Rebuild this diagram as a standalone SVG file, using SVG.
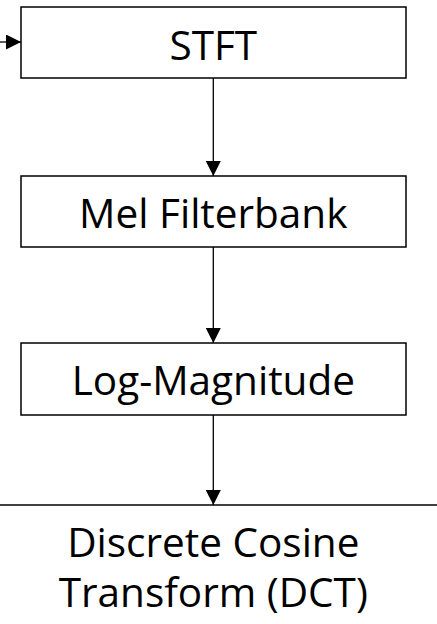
<svg xmlns="http://www.w3.org/2000/svg" width="437" height="624" viewBox="0 0 437 624">
<style>
.box{fill:#fff;stroke:#000;stroke-width:1.5}
.lbl{font-family:"Open Sans","Noto Sans","Liberation Sans",sans-serif;font-size:40.5px;fill:#000;text-anchor:middle}
.edge{stroke:#000;stroke-width:1.3;fill:none}
</style>
<defs>
<marker id="ah" viewBox="0 0 10 10" refX="10" refY="5" markerWidth="15" markerHeight="15" markerUnits="userSpaceOnUse" orient="auto">
<path d="M0,0 L10,5 L0,10 Z" fill="#000"/>
</marker>
</defs>
<g id="connectors">
<line class="edge" x1="0" y1="42" x2="21" y2="42" marker-end="url(#ah)"/>
<line class="edge" x1="213.3" y1="78" x2="213.3" y2="176" marker-end="url(#ah)"/>
<line class="edge" x1="213.3" y1="247" x2="213.3" y2="343" marker-end="url(#ah)"/>
<line class="edge" x1="213.3" y1="415" x2="213.3" y2="505" marker-end="url(#ah)"/>
</g>
<g id="stft">
<rect class="box" x="21" y="7" width="385" height="71"/>
<text class="lbl" x="213.3" y="60">STFT</text>
</g>
<g id="mel">
<rect class="box" x="21" y="176" width="385" height="71"/>
<text class="lbl" x="213.3" y="228">Mel Filterbank</text>
</g>
<g id="log">
<rect class="box" x="21" y="343" width="385" height="72"/>
<text class="lbl" x="213.3" y="395">Log-Magnitude</text>
</g>
<g id="dct">
<line x1="0" y1="505" x2="437" y2="505" stroke="#000" stroke-width="1.5"/>
<text class="lbl" x="213.3" y="557">Discrete Cosine</text>
<text class="lbl" x="213.3" y="607">Transform (DCT)</text>
</g>
</svg>
